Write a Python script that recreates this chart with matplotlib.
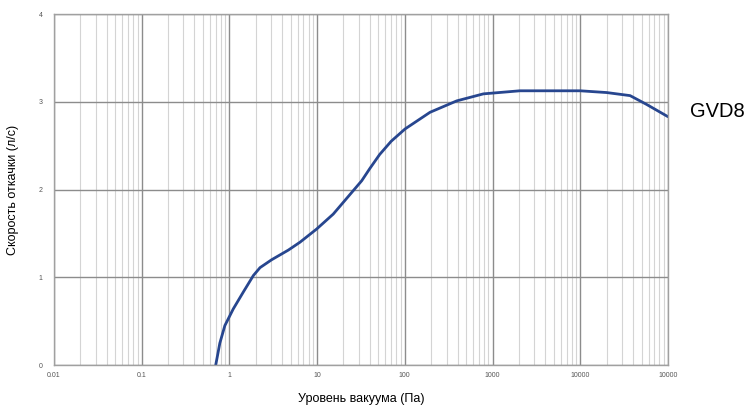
import matplotlib
matplotlib.use("Agg")
import matplotlib.pyplot as plt
from matplotlib.ticker import FixedLocator, LogLocator, NullFormatter

plt.rcParams['font.family'] = ['Liberation Sans', 'DejaVu Sans']

# Pumping speed curve of the GVD8 pump
pressure = [0.70, 0.78, 0.89, 1.11, 1.44, 1.88, 2.24, 3.04, 4.71, 6.4, 9.9,
            15.3, 21.8, 32.3, 40.0, 51.8, 70.0, 100.7, 194, 391, 787, 2050,
            10000, 20000, 37000, 57000, 100000]
speed = [0.0, 0.25, 0.45, 0.64, 0.83, 1.02, 1.11, 1.20, 1.31, 1.40, 1.55,
         1.72, 1.90, 2.10, 2.24, 2.40, 2.55, 2.69, 2.88, 3.01, 3.09, 3.125,
         3.125, 3.105, 3.07, 2.97, 2.83]

x_ticks = [0.01, 0.1, 1, 10, 100, 1000, 10000, 100000]
x_tick_labels = ["0.01", "0.1", "1", "10", "100", "1000", "10000", "10000"]
y_ticks = [0, 1, 2, 3, 4]
series_name = "GVD8"

fig = plt.figure(figsize=(7.48, 4.12), dpi=100)
ax = fig.add_axes([0.072, 0.114, 0.821, 0.852])

ax.plot(pressure, speed, color='#27468f', linewidth=2.0, solid_capstyle='round',
        solid_joinstyle='round')

ax.set_xscale('log')
ax.set_xlim(0.01, 100000)
ax.set_ylim(0, 4)

ax.xaxis.set_major_locator(FixedLocator(x_ticks))
ax.set_xticklabels(x_tick_labels)
ax.xaxis.set_minor_locator(LogLocator(base=10, subs=range(2, 10), numticks=50))
ax.xaxis.set_minor_formatter(NullFormatter())
ax.set_yticks(y_ticks)

ax.grid(which='major', color='#8c8c8c', linewidth=1.0)
ax.grid(which='minor', axis='x', color='#d4d4d4', linewidth=0.8)
ax.set_axisbelow(True)

ax.tick_params(which='both', length=0, labelsize=5, labelcolor='#555555')
ax.tick_params(axis='x', pad=5)
ax.tick_params(axis='y', pad=8)
for side in ax.spines.values():
    side.set_color('#a0a0a0')
    side.set_linewidth(1.0)

ax.set_xlabel("Уровень вакуума (Па)", fontsize=9, labelpad=10)
ax.set_ylabel("Скорость откачки (л/с)", fontsize=9, labelpad=14)

fig.text(0.922, 0.73, series_name, fontsize=14.5, color='black', va='center')

fig.savefig("out.png", dpi=100)
